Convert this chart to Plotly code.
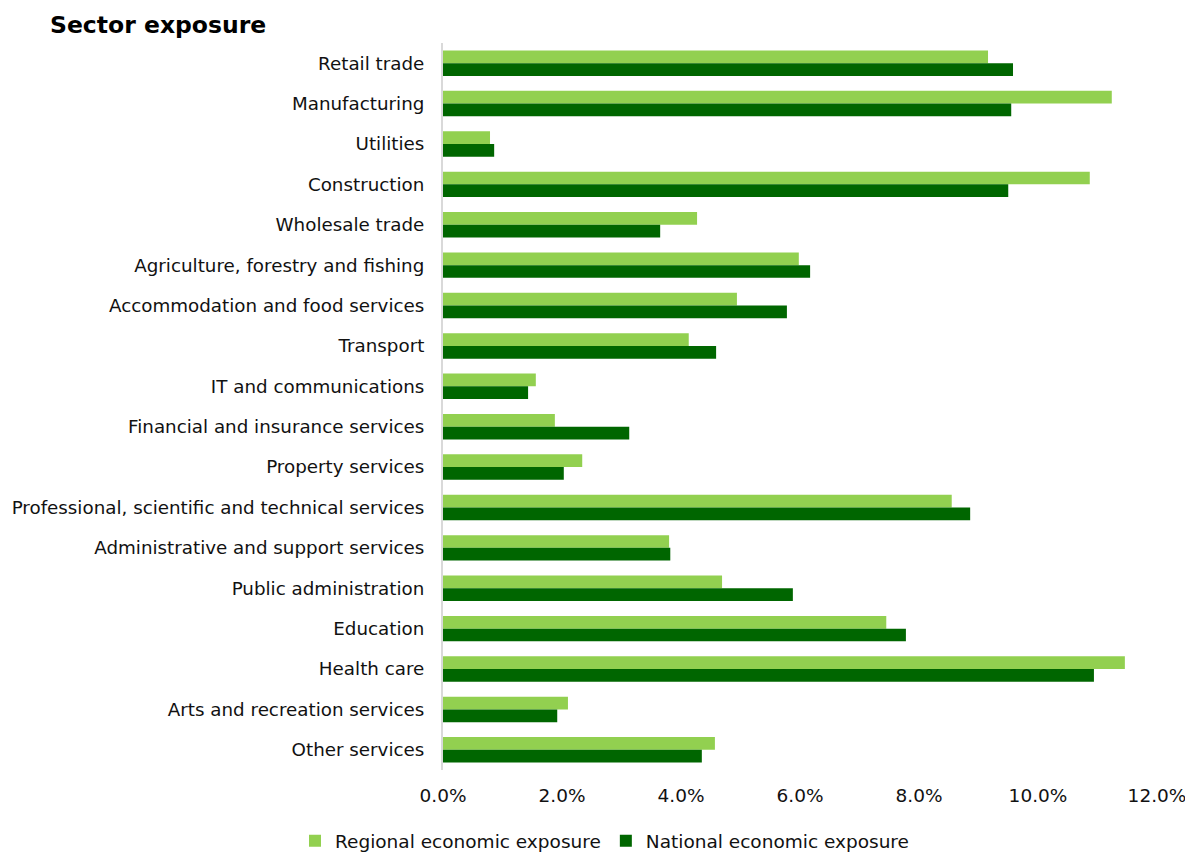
import plotly.graph_objects as go

categories = ["Retail trade", "Manufacturing", "Utilities", "Construction", "Wholesale trade",
              "Agriculture, forestry and fishing", "Accommodation and food services", "Transport",
              "IT and communications", "Financial and insurance services", "Property services",
              "Professional, scientific and technical services", "Administrative and support services",
              "Public administration", "Education", "Health care", "Arts and recreation services",
              "Other services"]
regional = [0.0916, 0.1124, 0.0079, 0.1087, 0.0427, 0.0598, 0.0494, 0.0413, 0.0156, 0.0188, 0.0234,
            0.0855, 0.0380, 0.0469, 0.0745, 0.1146, 0.0210, 0.0457]
national = [0.0958, 0.0955, 0.0086, 0.0950, 0.0365, 0.0617, 0.0578, 0.0459, 0.0143, 0.0313, 0.0203,
            0.0886, 0.0382, 0.0588, 0.0778, 0.1094, 0.0192, 0.0435]
tick_vals = [0, 0.02, 0.04, 0.06, 0.08, 0.10, 0.12]

font_family = "DejaVu Sans, Verdana, sans-serif"

fig = go.Figure()
fig.add_trace(go.Bar(y=categories, x=regional, orientation="h", name="Regional economic exposure",
                     marker=dict(color="#92D050", line=dict(width=0))))
fig.add_trace(go.Bar(y=categories, x=national, orientation="h", name="National economic exposure",
                     marker=dict(color="#006600", line=dict(width=0))))

fig.add_annotation(text="<b>Sector exposure</b>", xref="paper", yref="paper",
                   x=-0.553, y=1.047, xanchor="left", yanchor="top", showarrow=False,
                   font=dict(size=23.5, color="black", family=font_family))

fig.update_layout(
    width=1193, height=854,
    barmode="group", bargap=0.37, bargroupgap=0.0,
    plot_bgcolor="white", paper_bgcolor="white",
    margin=dict(l=435, r=44, t=35, b=92, autoexpand=False),
    font=dict(family=font_family, size=18.5, color="#111111"),
    legend=dict(orientation="h", xref="container", x=0.5, xanchor="center",
                yref="container", y=0.002, yanchor="bottom", traceorder="normal",
                font=dict(size=18.5), itemwidth=30),
    xaxis=dict(range=[0, 0.12], tickvals=tick_vals, tickformat=".1%", showgrid=False,
               zeroline=False, showline=False, ticks="", ticklabelstandoff=12),
    yaxis=dict(autorange="reversed", showgrid=False, showline=True, linecolor="#d9d9d9",
               linewidth=2, ticks="", ticklabelstandoff=13, tickfont=dict(size=18.3)),
)

fig.write_html("out.html")
